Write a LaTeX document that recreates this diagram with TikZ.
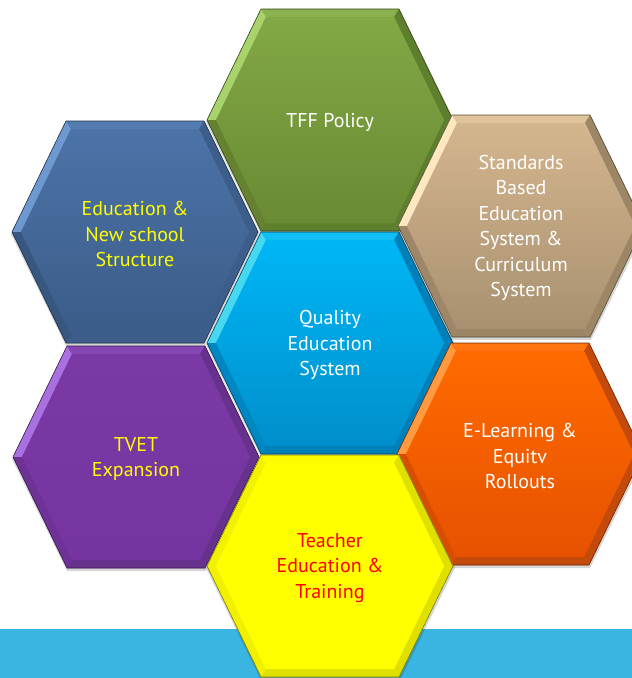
\documentclass[tikz,border=0pt]{standalone}
\usepackage{fontspec}
\setmainfont{PT Sans}
\usepackage{tikz}
\usetikzlibrary{positioning,calc}

\definecolor{bandblue}{HTML}{3AB4E0}
\definecolor{txtyellow}{HTML}{FFFF00}
\definecolor{txtred}{HTML}{FF0000}
% face top / face bottom / light rim / dark rim
\definecolor{greenT}{HTML}{82A846}  \definecolor{greenB}{HTML}{6A8A33}
\definecolor{greenL}{HTML}{A8D26B}  \definecolor{greenD}{HTML}{5E7F2E}
\definecolor{navyT}{HTML}{4C73A8}   \definecolor{navyB}{HTML}{3B5C88}
\definecolor{navyL}{HTML}{6E98D0}   \definecolor{navyD}{HTML}{3D5E8A}
\definecolor{tanT}{HTML}{D4B68E}    \definecolor{tanB}{HTML}{A89070}
\definecolor{tanL}{HTML}{FFE8C0}    \definecolor{tanD}{HTML}{9C8666}
\definecolor{cyanT}{HTML}{00B6F5}   \definecolor{cyanB}{HTML}{008FCC}
\definecolor{cyanL}{HTML}{45D8F0}   \definecolor{cyanD}{HTML}{0080B8}
\definecolor{violetT}{HTML}{7B39A6} \definecolor{violetB}{HTML}{7534A0}
\definecolor{violetL}{HTML}{A870E0} \definecolor{violetD}{HTML}{67318E}
\definecolor{orangeT}{HTML}{FF6A00} \definecolor{orangeB}{HTML}{E65200}
\definecolor{orangeL}{HTML}{FF9A40} \definecolor{orangeD}{HTML}{C44A0C}
\definecolor{lemonT}{HTML}{FFFF00}  \definecolor{lemonB}{HTML}{FFFF00}
\definecolor{lemonL}{HTML}{F2F200}  \definecolor{lemonD}{HTML}{E0E000}

% hexagon cell: name, centre, colour set, text colour, text
\newcommand{\hexcell}[5]{%
  \begin{scope}[shift={(#2)}]
    \shade[top color=#3T, bottom color=#3B] (-123,0) -- (-69,-111) -- (69,-111) -- (123,0) -- (69,111) -- (-69,111) -- cycle;
    \fill[#3L] (-123,0) -- (-69,-111) -- (-64,-103) -- (-114,0) -- cycle;
    \fill[#3T!75!#3L] (-69,-111) -- (69,-111) -- (64,-103) -- (-64,-103) -- cycle;
    \fill[#3D] (69,-111) -- (123,0) -- (114,0) -- (64,-103) -- cycle;
    \fill[#3D] (123,0) -- (69,111) -- (64,103) -- (114,0) -- cycle;
    \fill[#3D] (69,111) -- (-69,111) -- (-64,103) -- (64,103) -- cycle;
    \fill[#3B!94!black] (-69,111) -- (-123,0) -- (-114,0) -- (-64,103) -- cycle;
    \shade[top color=#3T, bottom color=#3B] (-114,0) -- (-64,-103) -- (64,-103) -- (114,0) -- (64,103) -- (-64,103) -- cycle;
    \draw[#3D!55!black, line width=.6pt] (-123,0) -- (-69,-111) -- (69,-111) -- (123,0) -- (69,111) -- (-69,111) -- cycle;
  \end{scope}
  \node[hexlabel, text=#4] (#1) at (#2) {#5};
}

\begin{document}
\begin{tikzpicture}[x=1pt, y=-1pt]
\tikzstyle{hexlabel}=[align=center, inner sep=0pt, yshift=-2pt, font=\fontsize{20}{25.5}\selectfont]
\useasboundingbox (0,0) rectangle (632,678);
\fill[white] (0,0) rectangle (632,678);
\fill[bandblue] (0,629) rectangle (632,678);

% soft shadows first
\foreach \cx/\cy in {330/120, 135/232, 521/226, 330/343, 136/457, 520/454, 330/566}
  \fill[black, opacity=.16] (\cx-124,\cy+2) -- (\cx-69,\cy-110) -- (\cx+70,\cy-110) -- (\cx+125,\cy+2) -- (\cx+70,\cy+114) -- (\cx-69,\cy+114) -- cycle;

\hexcell{tff}{330,120}{green}{white}{TFF Policy}
\hexcell{edu}{135,232}{navy}{txtyellow}{Education \&\\New school\\Structure}
\hexcell{std}{521,226}{tan}{white}{Standards\\Based\\Education\\System \&\\Curriculum\\System}
\hexcell{qes}{330,343}{cyan}{white}{Quality\\Education\\System}
\hexcell{tvet}{136,457}{violet}{txtyellow}{TVET\\Expansion}
\hexcell{elr}{520,454}{orange}{white}{E-Learning \&\\Equitv\\Rollouts}
\hexcell{ted}{330,566}{lemon}{txtred}{Teacher\\Education \&\\Training}
\end{tikzpicture}
\end{document}
